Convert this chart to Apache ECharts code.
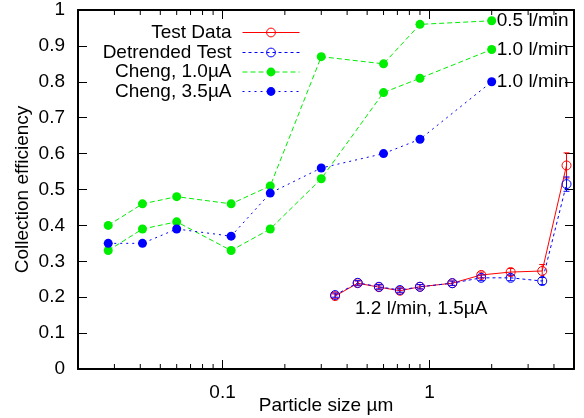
<!DOCTYPE html>
<html>
<head>
<meta charset="utf-8">
<script src="https://cdn.jsdelivr.net/npm/echarts@6.0.0/dist/echarts.min.js"></script>
<style>
html, body { margin: 0; padding: 0; background: #fff; }
#main { width: 584px; height: 418px; }
</style>
</head>
<body>
<div id="main"></div>
<script>
//Cheng 数据, 粒径(um)
var chengSize = [0.028, 0.041, 0.06, 0.11, 0.17, 0.3, 0.6, 0.9, 2.0];
var cheng10Flow05 = [0.40, 0.46, 0.48, 0.46, 0.51, 0.87, 0.85, 0.96, 0.97];
var cheng10Flow10 = [0.33, 0.39, 0.41, 0.33, 0.39, 0.53, 0.77, 0.81, 0.89];
var cheng35Flow10 = [0.35, 0.35, 0.39, 0.37, 0.49, 0.56, 0.60, 0.64, 0.80];

//测试数据
var testSize = [0.35, 0.45, 0.57, 0.72, 0.9, 1.29, 1.78, 2.47, 3.51, 4.6];
var testData = [0.203, 0.239, 0.228, 0.218, 0.229, 0.239, 0.262, 0.27, 0.273, 0.567];
var testErr = [0.006, 0.006, 0.006, 0.006, 0.006, 0.006, 0.008, 0.01, 0.018, 0.035];
var detrended = [0.206, 0.240, 0.229, 0.220, 0.229, 0.239, 0.254, 0.254, 0.245, 0.515];
var detrendedErr = [0.006, 0.006, 0.006, 0.006, 0.006, 0.006, 0.008, 0.008, 0.01, 0.02];

//对数轴次刻度
var minorTicks = [0.03, 0.04, 0.05, 0.06, 0.07, 0.08, 0.09,
	0.2, 0.3, 0.4, 0.5, 0.6, 0.7, 0.8, 0.9, 2, 3, 4];

var font = '"Liberation Sans", Arial, sans-serif';
var fs = 19;

function pairs(xs, ys) {
	var out = [];
	for(var i = 0; i < xs.length; i++) {
		out.push([xs[i], ys[i]]);
	}
	return out;
}

function errRows(xs, ys, es) {
	var out = [];
	for(var i = 0; i < xs.length; i++) {
		out.push([xs[i], ys[i] - es[i], ys[i] + es[i]]);
	}
	return out;
}

function renderErr(params, api) {
	var x = api.value(0);
	var lo = api.coord([x, api.value(1)]);
	var hi = api.coord([x, api.value(2)]);
	var style = { stroke: api.visual('color'), lineWidth: 1 };
	return {
		type: 'group',
		children: [
			{ type: 'line', shape: { x1: lo[0], y1: lo[1], x2: hi[0], y2: hi[1] }, style: style },
			{ type: 'line', shape: { x1: lo[0] - 3, y1: lo[1], x2: lo[0] + 3, y2: lo[1] }, style: style },
			{ type: 'line', shape: { x1: hi[0] - 3, y1: hi[1], x2: hi[0] + 3, y2: hi[1] }, style: style }
		]
	};
}

function renderMinor(params, api) {
	var v = api.value(0);
	var b = api.coord([v, 0]);
	var t = api.coord([v, 1]);
	var style = { stroke: '#000', lineWidth: 1 };
	return {
		type: 'group',
		children: [
			{ type: 'line', shape: { x1: b[0], y1: b[1], x2: b[0], y2: b[1] - 5 }, style: style },
			{ type: 'line', shape: { x1: t[0], y1: t[1], x2: t[0], y2: t[1] + 5 }, style: style }
		]
	};
}

function legendItem(name, top) {
	return {
		data: [name],
		right: 284,
		top: top,
		orient: 'vertical',
		align: 'right',
		padding: 0,
		itemWidth: 57,
		itemHeight: 11,
		selectedMode: false,
		lineStyle: { width: 1 },
		itemStyle: { borderWidth: 1 },
		textStyle: { fontSize: fs, fontFamily: font, color: '#000', padding: [0, 6, 0, 0] }
	};
}

function xAxisOpt(pos) {
	return {
		type: 'log',
		min: 0.02,
		max: 5,
		position: pos,
		axisLine: { onZero: false, lineStyle: { color: '#000', width: 2 } },
		axisTick: { inside: true, length: 9, lineStyle: { color: '#000' } },
		axisLabel: {
			show: pos === 'bottom',
			fontSize: fs,
			fontFamily: font,
			color: '#000',
			margin: 14,
			showMinLabel: false,
			showMaxLabel: false
		},
		splitLine: { show: false }
	};
}

function yAxisOpt(pos) {
	return {
		type: 'value',
		min: 0,
		max: 1,
		interval: 0.1,
		position: pos,
		axisLine: { onZero: false, lineStyle: { color: '#000', width: 2 } },
		axisTick: { inside: true, length: 9, lineStyle: { color: '#000' } },
		axisLabel: { show: pos === 'left', fontSize: fs, fontFamily: font, color: '#000', margin: 13 },
		splitLine: { show: false }
	};
}

var xBottom = xAxisOpt('bottom');
xBottom.name = 'Particle size µm';
xBottom.nameLocation = 'middle';
xBottom.nameGap = 27;
xBottom.nameMoveOverlap = false;
xBottom.nameTextStyle = { fontSize: fs, fontFamily: font, color: '#000' };

var yLeft = yAxisOpt('left');
yLeft.name = 'Collection efficiency';
yLeft.nameLocation = 'middle';
yLeft.nameGap = 46;
yLeft.nameMoveOverlap = false;
yLeft.nameTextStyle = { fontSize: fs, fontFamily: font, color: '#000' };

var endLabel = function(text) {
	return { show: true, formatter: text, distance: 5, fontSize: fs, fontFamily: font, color: '#000' };
};

var chart = echarts.init(document.getElementById('main'));
var option = {
	animation: false,
	backgroundColor: '#fff',
	grid: { left: 78, right: 10, top: 10, bottom: 49, containLabel: false, outerBoundsMode: 'none' },
	legend: [
		legendItem('Test Data', 23),
		legendItem('Detrended Test', 43),
		legendItem('Cheng, 1.0µA', 62.5),
		legendItem('Cheng, 3.5µA', 82)
	],
	xAxis: [xBottom, xAxisOpt('top')],
	yAxis: [yLeft, yAxisOpt('right')],
	graphic: [{
		type: 'text',
		left: 355,
		top: 299,
		style: { text: '1.2 l/min, 1.5µA', fontSize: fs, fontFamily: font, fill: '#000' }
	}],
	series: [{
			name: 'Test Data',
			type: 'line',
			data: pairs(testSize, testData),
			symbol: 'circle',
			symbolSize: 9,
			itemStyle: { color: 'transparent', borderColor: '#ff0000', borderWidth: 1 },
			lineStyle: { color: '#ff0000', width: 1, type: 'solid' },
			z: 3
		}, {
			name: 'Test err',
			type: 'custom',
			renderItem: renderErr,
			data: errRows(testSize, testData, testErr),
			encode: { x: 0, y: [1, 2] },
			itemStyle: { color: '#ff0000' },
			z: 3
		}, {
			name: 'Detrended Test',
			type: 'line',
			data: pairs(testSize, detrended),
			symbol: 'circle',
			symbolSize: 9,
			itemStyle: { color: 'transparent', borderColor: '#0000ff', borderWidth: 1 },
			lineStyle: { color: '#0000ff', width: 1, type: [3, 3] },
			z: 3
		}, {
			name: 'Detrended err',
			type: 'custom',
			renderItem: renderErr,
			data: errRows(testSize, detrended, detrendedErr),
			encode: { x: 0, y: [1, 2] },
			itemStyle: { color: '#0000ff' },
			z: 3
		}, {
			name: 'Cheng, 1.0µA',
			type: 'line',
			data: pairs(chengSize, cheng10Flow05),
			symbol: 'circle',
			symbolSize: 9,
			itemStyle: { color: '#00ee00' },
			lineStyle: { color: '#00ee00', width: 1, type: [5, 3] },
			endLabel: endLabel('0.5 l/min')
		}, {
			name: 'Cheng, 1.0µA',
			type: 'line',
			data: pairs(chengSize, cheng10Flow10),
			symbol: 'circle',
			symbolSize: 9,
			itemStyle: { color: '#00ee00' },
			lineStyle: { color: '#00ee00', width: 1, type: [5, 3] },
			endLabel: endLabel('1.0 l/min')
		}, {
			name: 'Cheng, 3.5µA',
			type: 'line',
			data: pairs(chengSize, cheng35Flow10),
			symbol: 'circle',
			symbolSize: 9,
			itemStyle: { color: '#0000ff' },
			lineStyle: { color: '#0000ff', width: 1, type: [2, 4] },
			endLabel: endLabel('1.0 l/min')
		}, {
			name: 'minor ticks',
			type: 'custom',
			renderItem: renderMinor,
			data: minorTicks.map(function(v) { return [v, 0]; }),
			encode: { x: 0, y: 1 },
			silent: true,
			z: 5
		}
	]
};
chart.setOption(option);
</script>
</body>
</html>
